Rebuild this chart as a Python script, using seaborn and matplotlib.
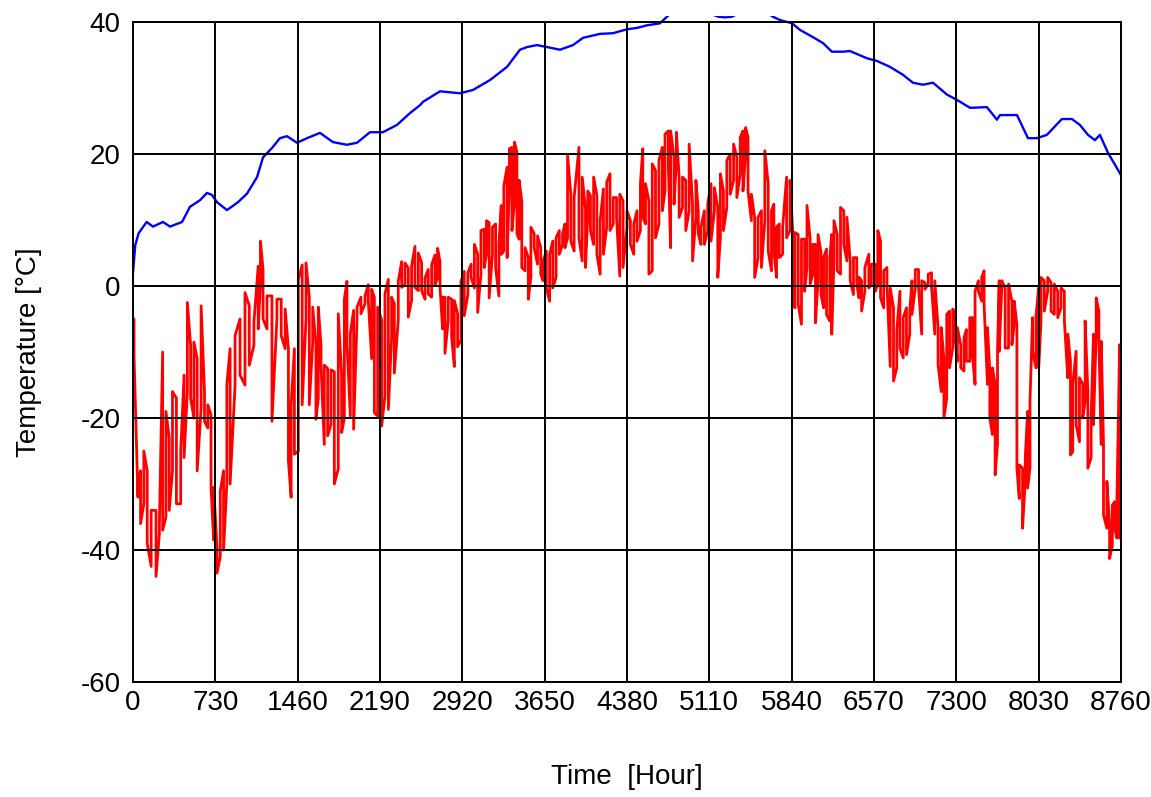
import numpy as np
import pandas as pd
import seaborn as sns
import matplotlib.pyplot as plt
from matplotlib.patches import Rectangle

sns.set_theme(style="white")
plt.rcParams['font.family'] = ['Liberation Sans', 'DejaVu Sans']

# Axis ticks
x_ticks = list(range(0, 8761, 730))
y_ticks = [-60, -40, -20, 0, 20, 40]

# Blue series: smooth temperature curve (hour, °C)
blue_hour = [0, 20, 50, 121, 177, 266, 328, 435, 505, 594, 656, 700, 745, 833, 931,
             1011, 1100, 1153, 1232, 1303, 1365, 1454, 1543, 1658, 1773, 1897, 1986,
             2101, 2216, 2340, 2456, 2545, 2571, 2722, 2899, 3014, 3165, 3316, 3431,
             3493, 3582, 3671, 3786, 3901, 3990, 4140, 4255, 4380, 4468, 4557, 4672,
             4734, 4780, 5000, 5190, 5250, 5310, 5450, 5640, 5674, 5736, 5843, 5914,
             6029, 6118, 6197, 6295, 6357, 6508, 6596, 6712, 6827, 6915, 7004, 7093,
             7217, 7305, 7421, 7571, 7660, 7687, 7838, 7935, 8015, 8103, 8236, 8325,
             8396, 8467, 8529, 8573, 8644, 8750, 8760]
blue_temp = [2, 6.2, 8, 9.7, 9, 9.7, 9, 9.7, 12, 13, 14.1, 13.8, 12.7, 11.5, 12.7,
             14, 16.5, 19.5, 20.9, 22.4, 22.7, 21.7, 22.4, 23.2, 21.8, 21.4, 21.7,
             23.3, 23.3, 24.4, 26.2, 27.4, 27.9, 29.5, 29.2, 29.7, 31.2, 33.2, 35.8,
             36.2, 36.5, 36.2, 35.8, 36.5, 37.6, 38.2, 38.3, 38.9, 39.1, 39.5, 39.8,
             40.8, 41.5, 42, 40.8, 40.7, 40.8, 42, 41.2, 40.8, 40.3, 39.8, 38.8,
             37.7, 36.8, 35.5, 35.5, 35.6, 34.5, 34.1, 33.2, 32, 30.8, 30.5, 30.8,
             29, 28.2, 27, 27.1, 25.2, 25.9, 25.9, 22.4, 22.4, 22.9, 25.3, 25.3,
             24.4, 22.9, 22.1, 22.9, 20.2, 17.1, 16.8]

# Red series: hourly temperature, given as high/low extremes per reading slot
red_hour = [9, 44, 67, 96, 126, 161, 204, 234, 263, 292, 321, 350, 385, 423, 453,
            482, 511, 540, 569, 604, 634, 663, 692, 715, 745, 774, 803, 832, 861, 905,
            949, 993, 1031, 1072, 1110, 1130, 1153, 1188, 1232, 1276, 1314, 1349, 1378,
            1402, 1431, 1466, 1500, 1534, 1563, 1593, 1622, 1643, 1667, 1696, 1726,
            1755, 1785, 1820, 1850, 1874, 1897, 1927, 1956, 1986, 2021, 2057, 2086,
            2116, 2140, 2169, 2205, 2234, 2264, 2293, 2317, 2352, 2382, 2411, 2441,
            2470, 2500, 2530, 2559, 2589, 2618, 2648, 2677, 2701, 2722, 2745, 2766,
            2795, 2825, 2849, 2878, 2908, 2937, 2969, 2998, 3027, 3056, 3085, 3114,
            3134, 3158, 3187, 3215, 3244, 3265, 3288, 3317, 3337, 3360, 3383, 3404,
            3424, 3447, 3476, 3505, 3528, 3557, 3587, 3615, 3636, 3665, 3694, 3722,
            3751, 3780, 3809, 3830, 3853, 3882, 3911, 3954, 3983, 4012, 4032, 4056,
            4084, 4113, 4142, 4171, 4200, 4229, 4258, 4287, 4316, 4345, 4380, 4410,
            4440, 4469, 4499, 4520, 4544, 4574, 4604, 4633, 4663, 4693, 4717, 4747,
            4767, 4797, 4818, 4842, 4872, 4901, 4931, 4961, 4991, 5012, 5036, 5066,
            5096, 5125, 5155, 5185, 5208, 5235, 5265, 5295, 5325, 5354, 5384, 5408,
            5432, 5453, 5483, 5512, 5542, 5572, 5602, 5632, 5661, 5682, 5706, 5730,
            5760, 5795, 5825, 5849, 5869, 5898, 5927, 5955, 5976, 6004, 6028, 6051,
            6074, 6100, 6123, 6149, 6178, 6195, 6215, 6244, 6273, 6302, 6330, 6359,
            6388, 6417, 6437, 6460, 6489, 6524, 6547, 6581, 6604, 6628, 6656, 6685,
            6714, 6743, 6772, 6800, 6829, 6858, 6887, 6907, 6936, 6965, 6993, 7022,
            7051, 7080, 7109, 7138, 7166, 7190, 7215, 7240, 7268, 7290, 7309, 7339,
            7368, 7389, 7419, 7442, 7466, 7496, 7525, 7546, 7576, 7597, 7620, 7644,
            7665, 7680, 7703, 7733, 7763, 7793, 7813, 7837, 7858, 7887, 7911, 7932,
            7953, 7976, 8006, 8030, 8051, 8080, 8110, 8140, 8169, 8199, 8228, 8258,
            8288, 8312, 8332, 8362, 8392, 8421, 8442, 8466, 8495, 8516, 8540, 8564,
            8585, 8605, 8635, 8659, 8683, 8703, 8724, 8748]
red_high = [-5, -30, -28, -25, -28, -34, -34, -36, -10, -19, -23, -16, -17, -25, -13.5,
            -2.5, -9, -8.5, -11, -3, -16, -18, -19.5, -30.5, -39.5, -31, -28, -15, -9.5, -7.5,
            -5, -1, -3, -5.5, 3, 6.8, 2.5, -1.5, -1.5, -2, -2, -3.5, -9.5,
            -18, -9.5, 1, 3.2, 3.5, -1.7, -3.2, -8.7, -3.2, -9, -12, -12.5,
            -12.7, -13, -4.2, -13.5, -2, 0.7, -7.2, -3.7, -3.2, -1.7, -1.5, 0.2,
            -0.5, -1.7, -3.2, -5.2, -1.2, 1, -1.7, -2.7, 0.7, 3.7, 3.5, 2.7,
            3, 6, 5, 3.5, 1.2, 2.5, 3.2, 4.7, 5.7, 3.7, -1.7, -1.7,
            -1.7, -2, -2.2, -4.2, 0.7, 2.2, 2, 3.3, 6.3, 4.8, 8.4, 8.6,
            9.9, 9.6, 8.9, 9.4, 6.3, 12.2, 15.2, 18, 20.8, 21, 21.8, 20.3,
            16, 12.9, 5.8, 4.3, 8.9, 7.9, 7.6, 5.8, 3.8, 5.3, 4.8, 6.8,
            7.3, 8.4, 7.9, 9.4, 19.8, 13.9, 13.4, 21, 16.5, 11.7, 14.4, 13.7,
            16.5, 13.7, 9.9, 14.7, 15.7, 17, 13.4, 13.4, 13.9, 12.9, 11.4, 9.9,
            9.4, 11.4, 15.5, 20.8, 15.5, 12.9, 18.5, 17.5, 19, 21, 23, 23.5,
            23.5, 19.5, 23.3, 16.5, 16.5, 16, 21.5, 12.4, 16, 11.4, 8.9, 11.4,
            12.4, 15.5, 14.9, 11.9, 17, 14.4, 19, 20, 21.5, 19.5, 22.5, 23.5,
            24, 22.5, 13.9, 10.4, 10.4, 11.4, 20.5, 15.5, 11.4, 12.4, 8.9, 9.4,
            8.9, 16.5, 16, 8.4, 8.1, 7.8, 7.1, 7.1, 12.2, 7.1, 6.3, 6.3,
            7.8, 5.1, 4.3, 5.6, 4.3, 7.8, 9.9, 7.8, 11.9, 11.4, 10.4, 3.8,
            4.3, 4.3, 1.3, 0.8, 2.8, 4.8, 3.3, 3.3, 8.4, 6.8, 2.3, 2.8,
            -0.3, -3.3, -6.8, -0.8, -4.8, -3.3, -3.8, 0.8, 2.5, 2.5, 0.8, 0.5,
            1.8, 2, 0.8, -6.3, -6.3, -11, -4.3, -3.8, -3.5, -4, -6.3, -8.9,
            -7.9, -6.6, -4.8, -4.8, -0.8, 0.8, 1.3, 2.3, -6.3, -12.9, -12.4, -14.9,
            -9.9, 0.8, 0.8, -0.3, 0.3, -2.3, -2.3, -5.8, -27.1, -27.6, -26, -19,
            -17.5, -4.8, -4.6, -0.3, 1.3, 0.8, 1.3, 0.5, 0.3, -0.8, -0.3, -0.8,
            -7.3, -11.4, -14.9, -9.9, -13.9, -14.9, -5.3, -16, -20, -7.3, -1.8, -3.8,
            -8.4, -24, -29.6, -36.2, -33.2, -32.7, -32.2, -8.9]
red_low = [-10.5, -32, -36, -33, -39, -42.5, -44, -37.5, -37, -35, -34, -28, -33, -33, -26,
           -16, -17, -20, -28, -18.5, -20.5, -21.5, -30.5, -38.5, -43.5, -41, -40, -30, -30, -15,
           -13.5, -15, -12, -9, -6.5, 0.5, -5, -6.5, -20.5, -5, -7.5, -9.5, -26.5,
           -32, -25.5, -25, -18, -5, -18, -8.7, -20.2, -17, -12, -24, -22.7,
           -21, -30, -27.7, -22.2, -20, -8.7, -19.7, -21.7, -5.2, -4.2, -2.7, -2.2,
           -11, -19.2, -19.7, -21.2, -16.7, -18.7, -7.7, -13.2, -5.2, -0.2, 0.2, -4.7,
           -2.2, -0.2, -0.7, -0.7, -2, -1.2, -1.7, 0.2, 1.2, -0.2, -6.5, -10.2,
           -5.2, -7.7, -12.2, -9.2, -8.2, -4.5, -1.3, 1.3, -0.3, -4, 1.8, 2.8,
           4.8, -1.8, 4.8, 2.8, -1.5, 4.8, 5.3, 4.3, 15, 8.4, 12.9, 7.9,
           7.1, 2.8, 2.3, -2, 1.3, 5.8, 3.3, 1.8, 0.8, -0.3, -2.3, -0.3,
           1.3, 4.8, 6.3, 5.8, 7.3, 6.8, 5.3, 7.3, 3.8, 2.8, 10.4, 8.4,
           6.3, 4.8, 1.8, 4.8, 8.9, 8.4, 9.4, 10.4, 1.5, 2.8, 8.9, 6.3,
           4.8, 6.8, 8.4, 10.4, 9.4, 1.8, 2.3, 7.3, 9.4, 11.4, 14.4, 18,
           5.8, 12.4, 19, 10.4, 11.9, 8.4, 11.4, 3.8, 10.4, 7.9, 6.3, 6.3,
           8.4, 6.8, 11.4, 1.3, 7.3, 8.4, 11.9, 13.9, 16, 13.4, 17, 14.4,
           20, 14.4, 9.9, 1.3, 4.3, 2.8, 9.9, 5.3, 2.3, 5.3, 1.3, 4.3,
           4.8, 7.3, 8.4, 0.3, -3.3, -2.8, -5.8, -0.8, 2.8, 0.3, 1.8, -5.6,
           0.8, -1.3, -3.3, -4.3, -5.3, -7.3, 3.8, 2.3, 1.8, 6.3, 3.8, 0.8,
           -1.3, 0.3, -1.8, -3.8, -0.8, -0.3, 0.3, -0.8, 0.3, -1.8, -3.3, 0.3,
           -12.2, -14.4, -12.4, -9.4, -10.9, -10.4, -7.3, -4.3, -0.3, -0.3, -7.3, -0.5,
           0.3, 0, -7.3, -11.9, -16, -20, -17, -12.4, -9.4, -8, -11.4, -12.4,
           -12.9, -11.4, -11.4, -10.4, -14.9, -0.8, -2.3, -2.8, -14.9, -20, -22.5, -28.6,
           -24, -9.9, -0.3, -9.4, -9.4, -8.9, -5.8, -27.6, -32.2, -36.7, -29.6, -30.6,
           -27.6, -9.9, -12.4, -12.4, -5.3, -3.8, -0.8, -3.8, -4.3, -4.8, -3.3, -5.3,
           -13.9, -25.6, -25.1, -21, -23.6, -20, -17.5, -27.6, -26, -21, -7.3, -8.4,
           -24, -34.7, -36.7, -41.3, -39.3, -36.7, -38.2, -38.2]

# Each slot becomes a vertical stroke between its extremes; alternate the
# stroke direction so consecutive slots join along the envelope.
stroke_hour, stroke_temp = [], []
for i, (h, hi, lo) in enumerate(zip(red_hour, red_high, red_low)):
    stroke_hour += [h, h]
    stroke_temp += [hi, lo] if i % 2 == 0 else [lo, hi]
red_df = pd.DataFrame({"hour": stroke_hour, "temp": stroke_temp})
blue_df = pd.DataFrame({"hour": blue_hour, "temp": blue_temp})

fig = plt.figure(figsize=(11.51, 7.97), dpi=100)
ax = fig.add_axes([133 / 1151, 1 - 682 / 797, 988 / 1151, 660 / 797])

sns.lineplot(data=red_df, x="hour", y="temp", estimator=None, sort=False,
             color="#ff0000", linewidth=2.0, ax=ax)
sns.lineplot(data=blue_df, x="hour", y="temp", estimator=None, sort=False,
             color="#0000ff", linewidth=1.7, ax=ax)

ax.set_xlim(0, 8760)
ax.set_ylim(-60, 40)

# The blue curve may poke a hair above the frame before it is cut off
blue_line = ax.lines[-1]
blue_line.set_clip_path(Rectangle((0, -60), 8760, 100.9, transform=ax.transData))

ax.set_xticks(x_ticks)
ax.set_xticklabels([str(t) for t in x_ticks])
ax.set_yticks(y_ticks)
ax.set_yticklabels([str(t) for t in y_ticks])
ax.tick_params(axis="both", length=0, labelsize=20, colors="black")
ax.tick_params(axis="x", pad=6)
ax.tick_params(axis="y", pad=9)

ax.set_axisbelow(False)
ax.grid(True, color="black", linewidth=1.4)
for s in ax.spines.values():
    s.set_color("black")
    s.set_linewidth(1.4)
    s.set_visible(True)

ax.set_xlabel("Time  [Hour]", fontsize=20, color="black")
ax.set_ylabel("Temperature [°C]", fontsize=20, color="black")
ax.xaxis.set_label_coords(0.5, -0.125)
ax.yaxis.set_label_coords(-0.092, 0.5)

fig.savefig("out.png", dpi=100, facecolor="white")
